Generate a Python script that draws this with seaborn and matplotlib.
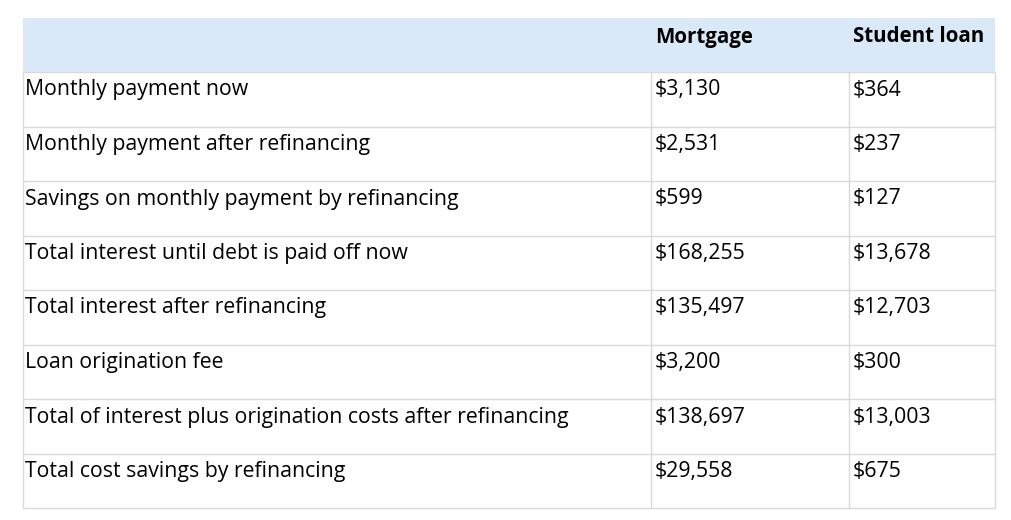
import matplotlib
matplotlib.use("Agg")
import matplotlib.pyplot as plt
import seaborn as sns

sns.set_theme(style="white")
plt.rcParams['font.family'] = ['Open Sans', 'DejaVu Sans']

# Table content
columns = ["Mortgage", "Student loan"]
row_labels = [
    "Monthly payment now",
    "Monthly payment after refinancing",
    "Savings on monthly payment by refinancing",
    "Total interest until debt is paid off now",
    "Total interest after refinancing",
    "Loan origination fee",
    "Total of interest plus origination costs after refinancing",
    "Total cost savings by refinancing",
]
mortgage = ["$3,130", "$2,531", "$599", "$168,255", "$135,497", "$3,200", "$138,697", "$29,558"]
student_loan = ["$364", "$237", "$127", "$13,678", "$12,703", "$300", "$13,003", "$675"]

# Layout in pixel coordinates
W, H = 1011, 520
col_x = [23, 651, 849, 995]
top, header_h, row_h = 18, 54, 54.5
n = len(row_labels)
row_y = [top + header_h + i * row_h for i in range(n + 1)]

fig = plt.figure(figsize=(W / 100, H / 100), dpi=100)
ax = fig.add_axes([0, 0, 1, 1])
ax.set_xlim(0, W)
ax.set_ylim(H, 0)
ax.axis("off")

# header band
ax.add_patch(plt.Rectangle((col_x[0], top), col_x[-1] - col_x[0], header_h,
                           facecolor="#dae9f8", edgecolor="none"))
grid = "#d9d9d9"
ax.hlines(row_y, col_x[0], col_x[-1], color=grid, lw=1)
ax.vlines(col_x, row_y[0], row_y[-1], color=grid, lw=1)

fs = 15.3
for j, c in enumerate(columns):
    ax.text(col_x[j + 1] + 4, top + 19, c, fontsize=fs - 0.5, fontweight="bold",
            va="center", ha="left", color="black")

for i, lab in enumerate(row_labels):
    y = row_y[i] + 18
    ax.text(col_x[0] + 2, y, lab, fontsize=fs, va="center", ha="left", color="black")
    ax.text(col_x[1] + 4, y, mortgage[i], fontsize=fs, va="center", ha="left", color="black")
    ax.text(col_x[2] + 4, y, student_loan[i], fontsize=fs, va="center", ha="left", color="black")

fig.savefig("out.png", dpi=100)
